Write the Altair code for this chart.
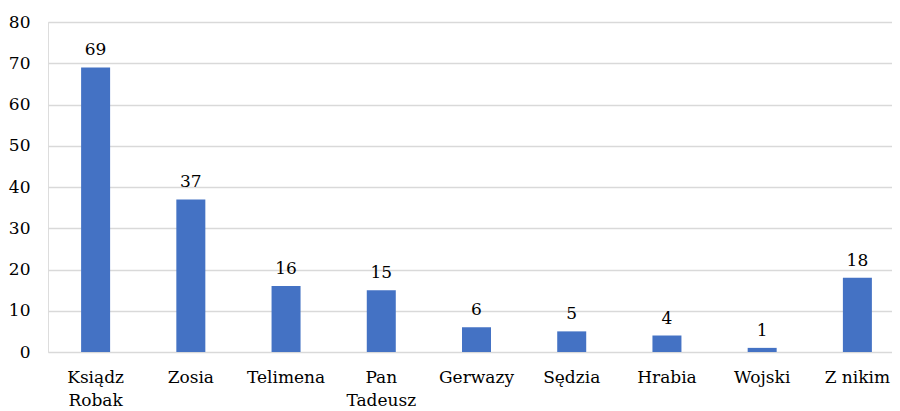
import altair as alt
import pandas as pd

categories = ["Ksiądz Robak", "Zosia", "Telimena", "Pan Tadeusz", "Gerwazy",
              "Sędzia", "Hrabia", "Wojski", "Z nikim"]
values = [69, 37, 16, 15, 6, 5, 4, 1, 18]

df = pd.DataFrame({"kategoria": categories, "wartosc": values})

FONT = "DejaVu Serif"
FS = 17
x = alt.X("kategoria:N", sort=categories,
          scale=alt.Scale(paddingInner=0, paddingOuter=0, range=[0, 857]),
          axis=alt.Axis(title=None, labelAngle=0, ticks=False, domain=False,
                        labelFont=FONT, labelFontSize=FS, labelColor="#000000",
                        labelPadding=17, labelLineHeight=23,
                        labelExpr="datum.label == 'Z nikim' ? datum.label : split(datum.label, ' ')"))

bars = alt.Chart(df).mark_bar(color="#4472C4", size=29).encode(
    x=x,
    y=alt.Y("wartosc:Q", scale=alt.Scale(domain=[0, 80]),
            axis=alt.Axis(title=None, values=[0, 10, 20, 30, 40, 50, 60, 70, 80],
                          ticks=False, domain=False, labelFont=FONT, labelFontSize=FS,
                          labelColor="#000000", labelPadding=18,
                          gridColor="#d9d9d9", gridWidth=1.3)),
)

labels = alt.Chart(df).mark_text(font=FONT, fontSize=FS, color="#000000",
                                 baseline="bottom", dy=-8).encode(
    x=alt.X("kategoria:N", sort=categories),
    y="wartosc:Q",
    text="wartosc:Q",
)

chart = (bars + labels).properties(
    width=844, height=330,
    autosize=alt.AutoSizeParams(type="none"),
    padding={"left": 40, "top": 14, "right": 0, "bottom": 64},
).configure_view(stroke=None).configure(font=FONT)

chart.save("out.html", embed_options={"renderer": "svg", "actions": False})
